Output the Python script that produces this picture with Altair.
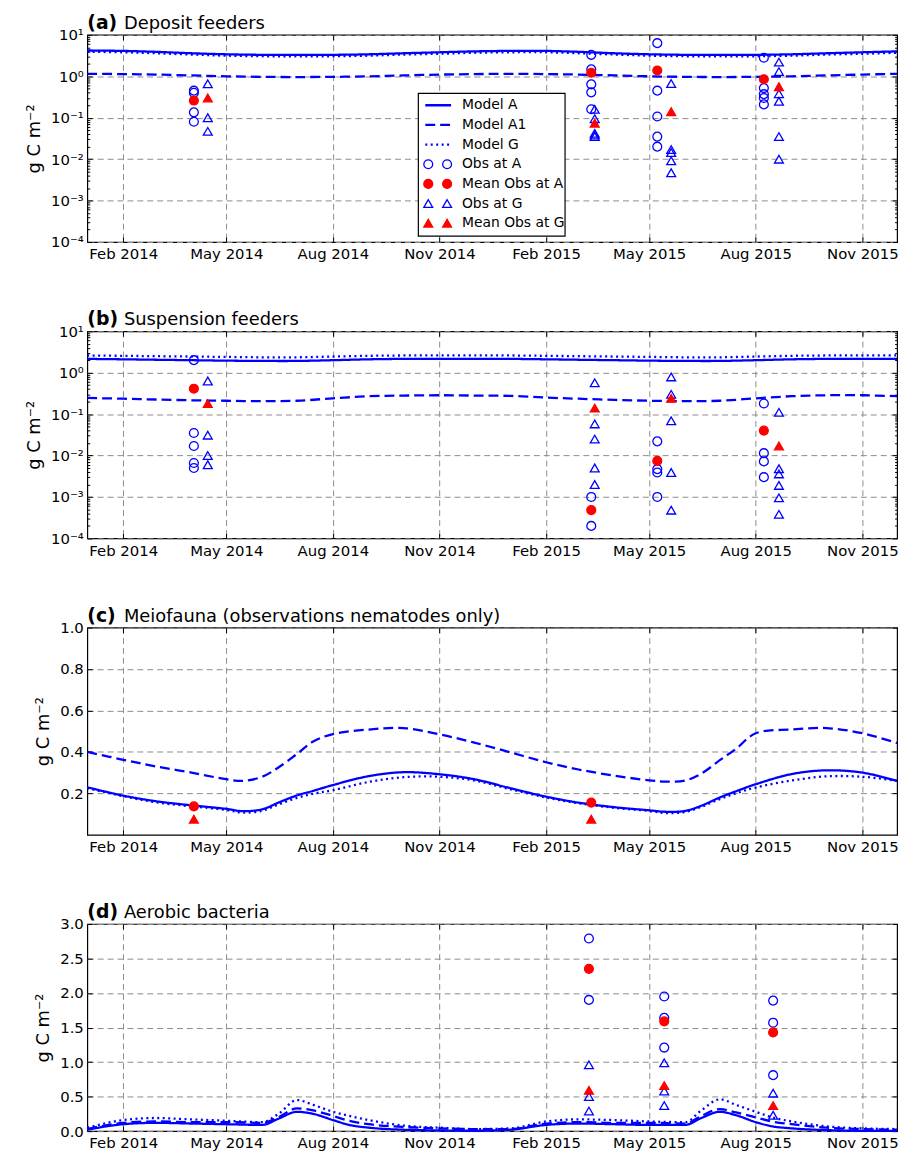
import altair as alt
import pandas as pd

FONT = "DejaVu Sans"
BLUE = "#0000ff"
RED = "#ff0000"
W, H = 817, 209

# ---------------- data ----------------
months = ["2014-01-01", "2014-02-01", "2014-03-01", "2014-04-01", "2014-05-01", "2014-06-01",
          "2014-07-01", "2014-08-01", "2014-09-01", "2014-10-01", "2014-11-01", "2014-12-01",
          "2015-01-01", "2015-02-01", "2015-03-01", "2015-04-01", "2015-05-01", "2015-06-01",
          "2015-07-01", "2015-08-01", "2015-09-01", "2015-10-01", "2015-11-01", "2015-12-01"]

c_dates = ["2014-01-01", "2014-02-01", "2014-03-01", "2014-04-01", "2014-05-01", "2014-05-15",
           "2014-06-01", "2014-06-15", "2014-07-01", "2014-07-15", "2014-08-01", "2014-09-01",
           "2014-10-01", "2014-11-01", "2014-12-01", "2015-01-01", "2015-02-01", "2015-03-01",
           "2015-04-01", "2015-05-01", "2015-05-15", "2015-06-01", "2015-06-15", "2015-07-01",
           "2015-07-15", "2015-08-01", "2015-09-01", "2015-10-01", "2015-11-01", "2015-12-01"]

d_dates = ["2014-01-01", "2014-02-01", "2014-03-01", "2014-04-01", "2014-05-01", "2014-06-01",
           "2014-06-15", "2014-07-01", "2014-07-15", "2014-08-01", "2014-08-15", "2014-09-01",
           "2014-10-01", "2014-11-01", "2014-12-01", "2015-01-01", "2015-02-01", "2015-03-01",
           "2015-04-01", "2015-05-01", "2015-06-01", "2015-06-15", "2015-07-01", "2015-07-15",
           "2015-08-01", "2015-08-15", "2015-09-01", "2015-10-01", "2015-11-01", "2015-12-01"]

x_tick_dates = ["2014-02-01", "2014-05-01", "2014-08-01", "2014-11-01",
                "2015-02-01", "2015-05-01", "2015-08-01", "2015-11-01"]

series_names = ["Model A", "Model A1", "Model G"]
marker_kinds = ["Obs at A", "Obs at G", "Mean Obs at A", "Mean Obs at G"]
legend_labels = ["Model A", "Model A1", "Model G", "Obs at A", "Mean Obs at A", "Obs at G", "Mean Obs at G"]
panel_tags = ["(a)", "(b)", "(c)", "(d)"]
panel_titles = ["Deposit feeders", "Suspension feeders",
                "Meiofauna (observations nematodes only)", "Aerobic bacteria"]

# (a) Deposit feeders
a_model_A = [4.2, 4.1, 3.9, 3.6, 3.4, 3.3, 3.3, 3.3, 3.4, 3.6, 3.8, 4.0,
             4.1, 4.1, 3.9, 3.6, 3.4, 3.3, 3.3, 3.3, 3.4, 3.6, 3.8, 4.0]
a_model_A1 = [1.15, 1.13, 1.1, 1.05, 1.0, 0.97, 0.96, 0.97, 1.0, 1.05, 1.1, 1.13,
              1.15, 1.13, 1.1, 1.05, 1.0, 0.97, 0.96, 0.97, 1.0, 1.05, 1.1, 1.15]
a_model_G = [3.9, 3.8, 3.6, 3.35, 3.15, 3.05, 3.05, 3.05, 3.15, 3.35, 3.5, 3.7,
             3.8, 3.8, 3.6, 3.35, 3.15, 3.05, 3.05, 3.05, 3.15, 3.35, 3.5, 3.7]
a_obs_A = {"2014-04-03": [0.45, 0.40, 0.135, 0.08],
           "2015-03-12": [3.3, 1.47, 0.64, 0.41, 0.16],
           "2015-05-08": [6.3, 0.45, 0.107, 0.035, 0.02],
           "2015-08-08": [2.8, 0.52, 0.37, 0.30, 0.21]}
a_mean_A = {"2014-04-03": 0.26, "2015-03-12": 1.22, "2015-05-08": 1.38, "2015-08-08": 0.85}
a_obs_G = {"2014-04-15": [0.66, 0.10, 0.047],
           "2015-03-15": [0.16, 0.095, 0.042, 0.038, 0.035],
           "2015-05-20": [0.67, 0.017, 0.0145, 0.0091, 0.0047],
           "2015-08-21": [2.2, 1.3, 0.38, 0.25, 0.035, 0.01]}
a_mean_G = {"2014-04-15": 0.30, "2015-03-15": 0.074, "2015-05-20": 0.14, "2015-08-21": 0.56}

# (b) Suspension feeders
b_model_A = [2.15, 2.1, 2.05, 2.0, 1.95, 1.92, 1.92, 2.0, 2.1, 2.15, 2.15, 2.15,
             2.15, 2.1, 2.05, 2.0, 1.95, 1.92, 1.92, 2.0, 2.1, 2.15, 2.15, 2.15]
b_model_A1 = [0.245, 0.235, 0.225, 0.215, 0.21, 0.205, 0.21, 0.24, 0.27, 0.28, 0.285, 0.28,
              0.275, 0.25, 0.235, 0.22, 0.21, 0.205, 0.21, 0.24, 0.27, 0.285, 0.285, 0.27]
b_model_G = [2.6, 2.55, 2.5, 2.45, 2.4, 2.35, 2.35, 2.45, 2.55, 2.6, 2.6, 2.6,
             2.6, 2.55, 2.5, 2.45, 2.4, 2.35, 2.35, 2.45, 2.55, 2.6, 2.6, 2.6]
b_obs_A = {"2014-04-03": [2.0, 0.035, 0.017, 0.0066, 0.005],
           "2015-03-12": [0.001, 0.0002],
           "2015-05-08": [0.022, 0.0047, 0.0039, 0.001],
           "2015-08-08": [0.18, 0.0114, 0.0072, 0.003]}
b_mean_A = {"2014-04-03": 0.41, "2015-03-12": 0.00048, "2015-05-08": 0.0074, "2015-08-08": 0.040}
b_obs_G = {"2014-04-15": [0.63, 0.031, 0.010, 0.006],
           "2015-03-15": [0.57, 0.058, 0.025, 0.005, 0.002],
           "2015-05-20": [0.79, 0.30, 0.069, 0.0039, 0.00048],
           "2015-08-21": [0.11, 0.0048, 0.0036, 0.0019, 0.00095, 0.00038]}
b_mean_G = {"2014-04-15": 0.18, "2015-03-15": 0.14, "2015-05-20": 0.24, "2015-08-21": 0.017}

# (c) Meiofauna
c_model_A = [0.229, 0.189, 0.162, 0.142, 0.125, 0.114, 0.123, 0.155, 0.19, 0.212, 0.24, 0.283,
             0.302, 0.292, 0.268, 0.225, 0.184, 0.155, 0.133, 0.118, 0.111, 0.115, 0.14, 0.18,
             0.21, 0.244, 0.293, 0.311, 0.30, 0.26]
c_model_A1 = [0.40, 0.362, 0.33, 0.30, 0.268, 0.26, 0.28, 0.325, 0.39, 0.45, 0.486, 0.508,
              0.515, 0.485, 0.445, 0.398, 0.35, 0.315, 0.285, 0.263, 0.257, 0.262, 0.295, 0.36,
              0.415, 0.49, 0.508, 0.515, 0.49, 0.443]
c_model_G = [0.225, 0.186, 0.157, 0.137, 0.12, 0.107, 0.116, 0.146, 0.178, 0.198, 0.215, 0.255,
             0.278, 0.28, 0.262, 0.22, 0.18, 0.152, 0.13, 0.115, 0.105, 0.11, 0.135, 0.172,
             0.2, 0.228, 0.262, 0.282, 0.28, 0.26]
c_mean_A = {"2014-04-03": 0.137, "2015-03-12": 0.155}
c_mean_G = {"2014-04-03": 0.075, "2015-03-12": 0.075}

# (d) Aerobic bacteria
d_model_A = [0.02, 0.10, 0.12, 0.11, 0.10, 0.09, 0.18, 0.28, 0.25, 0.16, 0.09, 0.05,
             0.02, 0.01, 0.005, 0.02, 0.09, 0.11, 0.10, 0.09, 0.09, 0.19, 0.28, 0.23,
             0.13, 0.07, 0.04, 0.015, 0.005, 0.005]
d_model_A1 = [0.03, 0.12, 0.14, 0.13, 0.13, 0.12, 0.20, 0.33, 0.30, 0.22, 0.15, 0.10,
              0.06, 0.04, 0.03, 0.03, 0.11, 0.13, 0.12, 0.12, 0.11, 0.22, 0.32, 0.27,
              0.20, 0.14, 0.10, 0.05, 0.03, 0.02]
d_model_G = [0.05, 0.16, 0.19, 0.17, 0.15, 0.13, 0.25, 0.45, 0.38, 0.28, 0.22, 0.16,
             0.08, 0.05, 0.03, 0.04, 0.14, 0.17, 0.16, 0.14, 0.13, 0.30, 0.46, 0.38,
             0.28, 0.20, 0.14, 0.07, 0.04, 0.03]
d_obs_A = {"2015-03-10": [2.79, 1.90], "2015-05-14": [1.95, 1.64, 1.21], "2015-08-16": [1.89, 1.57, 0.81]}
d_mean_A = {"2015-03-10": 2.35, "2015-05-14": 1.59, "2015-08-16": 1.43}
d_obs_G = {"2015-03-10": [0.96, 0.50, 0.29], "2015-05-14": [0.99, 0.58, 0.37], "2015-08-16": [0.55, 0.23]}
d_mean_G = {"2015-03-10": 0.59, "2015-05-14": 0.66, "2015-08-16": 0.37}

log_ticks = [1e-4, 1e-3, 1e-2, 1e-1, 1, 10]
log_minor = [m * 10.0 ** k for k in range(-4, 1) for m in range(2, 10)]
c_ticks = [0.2, 0.4, 0.6, 0.8, 1.0]
d_ticks = [0.0, 0.5, 1.0, 1.5, 2.0, 2.5, 3.0]


# ---------------- helpers ----------------
def dt(s):
    return alt.DateTime(year=int(s[:4]), month=int(s[5:7]), date=int(s[8:10]), utc=True)


XSCALE = alt.Scale(type="utc", domain=[dt("2014-01-01"), dt("2015-12-01")], nice=False)
XTICKS = [dt(s) for s in x_tick_dates]
DASH = alt.Scale(domain=series_names, range=[[1, 0], [10, 5], [2, 3.5]])
SHAPE = alt.Scale(domain=marker_kinds, range=["circle", "triangle-up", "circle", "triangle-up"])
FILL = alt.Scale(domain=marker_kinds, range=["rgba(0,0,0,0)", "rgba(0,0,0,0)", RED, RED])
STROKE = alt.Scale(domain=marker_kinds, range=[BLUE, BLUE, RED, RED])
SIZE = alt.Scale(domain=marker_kinds, range=[80, 80, 110, 120])

LOG_EXPR = ("datum.value > 5 ? '10¹' : datum.value > 0.5 ? '10⁰' : datum.value > 0.05 ? '10⁻¹' : "
            "datum.value > 0.005 ? '10⁻²' : datum.value > 0.0005 ? '10⁻³' : '10⁻⁴'")


def model_frame(dates, A, A1, G):
    rows = []
    for name, vals in zip(series_names, [A, A1, G]):
        for d, v in zip(dates, vals):
            rows.append({"date": d, "value": v, "series": name})
    return pd.DataFrame(rows)


def obs_frame(obsA, obsG, meanA, meanG):
    rows = []
    for kind, grp in [("Obs at A", obsA), ("Obs at G", obsG)]:
        for d, vals in grp.items():
            for v in vals:
                rows.append({"date": d, "value": v, "kind": kind})
    for kind, grp in [("Mean Obs at A", meanA), ("Mean Obs at G", meanG)]:
        for d, v in grp.items():
            rows.append({"date": d, "value": v, "kind": kind})
    return pd.DataFrame(rows)


def marker_encodings():
    return dict(
        shape=alt.Shape("kind:N", scale=SHAPE, legend=None),
        fill=alt.Fill("kind:N", scale=FILL, legend=None),
        stroke=alt.Stroke("kind:N", scale=STROKE, legend=None),
        size=alt.Size("kind:N", scale=SIZE, legend=None),
    )


def tick_axis(orient, values, size, offset):
    return alt.Axis(orient=orient, offset=offset, values=values, labels=False, grid=False,
                    domain=False, ticks=True, tickSize=size, tickColor="black", tickWidth=1,
                    title=None)


def panel(idx, lines_df, pts_df, yscale, ymain, yticks, yminor=None, legend=False,
          interp="catmull-rom"):
    xnone = alt.X("date:T", scale=XSCALE, axis=None)
    ynone = alt.Y("value:Q", scale=yscale, axis=None)
    layers = []
    xmain = alt.Axis(orient="bottom", values=XTICKS, labelExpr="utcFormat(datum.value, '%b %Y')",
                     grid=True, ticks=False, domain=False, labelPadding=5, title=None,
                     labelFlush=False, labelOverlap=False)
    layers.append(
        alt.Chart(lines_df).mark_line(strokeWidth=2.3, color=BLUE, interpolate=interp).encode(
            x=alt.X("date:T", scale=XSCALE, axis=xmain),
            y=alt.Y("value:Q", scale=yscale, axis=ymain),
            strokeDash=alt.StrokeDash("series:N", scale=DASH, legend=None),
        )
    )
    # inside tick marks on all four sides
    layers.append(alt.Chart(lines_df).mark_point(opacity=0).encode(
        x=alt.X("date:T", scale=XSCALE, axis=tick_axis("top", XTICKS, 5, -H)),
        y=alt.Y("value:Q", scale=yscale, axis=tick_axis("right", yticks, 5, -W))))
    layers.append(alt.Chart(lines_df).mark_point(opacity=0).encode(
        x=alt.X("date:T", scale=XSCALE, axis=tick_axis("bottom", XTICKS, 5, -H)),
        y=alt.Y("value:Q", scale=yscale, axis=tick_axis("left", yticks, 5, -W))))
    if yminor is not None:
        layers.append(alt.Chart(lines_df).mark_point(opacity=0).encode(
            x=xnone, y=alt.Y("value:Q", scale=yscale, axis=tick_axis("right", yminor, 2.5, -W))))
        layers.append(alt.Chart(lines_df).mark_point(opacity=0).encode(
            x=xnone, y=alt.Y("value:Q", scale=yscale, axis=tick_axis("left", yminor, 2.5, -W))))
    if pts_df is not None:
        layers.append(alt.Chart(pts_df).mark_point(filled=True, strokeWidth=1.3, opacity=1).encode(
            x=xnone, y=ynone, **marker_encodings()))
    # panel title
    tag_df = pd.DataFrame({"t": [panel_tags[idx]]})
    ttl_df = pd.DataFrame({"t": [panel_titles[idx]]})
    layers.append(alt.Chart(tag_df).mark_text(align="left", baseline="alphabetic", font=FONT,
                                              fontSize=19, fontWeight="bold", color="black").encode(
        x=alt.value(0), y=alt.value(-6), text="t:N"))
    layers.append(alt.Chart(ttl_df).mark_text(align="left", baseline="alphabetic", font=FONT,
                                              fontSize=18, color="black").encode(
        x=alt.value(37), y=alt.value(-6), text="t:N"))
    if legend:
        leg_df = pd.DataFrame({"row": list(range(len(legend_labels))), "kind": legend_labels})
        rows = alt.Y("row:Q", scale=alt.Scale(domain=[0, 6], range=[71, 190]), axis=None)
        box_df = pd.DataFrame({"b": [0]})
        layers.append(alt.Chart(box_df).mark_rect(fill="white", stroke="black", strokeWidth=1.2).encode(
            x=alt.value(334), x2=alt.value(482), y=alt.value(59), y2=alt.value(203)))
        layers.append(alt.Chart(leg_df).transform_filter("datum.row < 3").mark_rule(
            strokeWidth=2.3, color=BLUE).encode(
            x=alt.value(341), x2=alt.value(367), y=rows,
            strokeDash=alt.StrokeDash("kind:N", scale=DASH, legend=None)))
        for xp in (344, 363):
            layers.append(alt.Chart(leg_df).transform_filter("datum.row >= 3").mark_point(
                filled=True, strokeWidth=1.3, opacity=1).encode(
                x=alt.value(xp), y=rows, **marker_encodings()))
        layers.append(alt.Chart(leg_df).mark_text(align="left", baseline="middle", font=FONT,
                                                  fontSize=14, color="black").encode(
            x=alt.value(378), y=rows, text="kind:N"))
    return (alt.layer(*layers)
            .resolve_scale(x="independent", y="independent")
            .resolve_axis(x="independent", y="independent")
            .properties(width=W, height=H))


YTITLE = "g C m⁻²"
log_scale = alt.Scale(type="log", domain=[1e-4, 10], nice=False)
log_axis = alt.Axis(orient="left", values=log_ticks, labelExpr=LOG_EXPR, grid=True, ticks=False,
                    domain=False, title=YTITLE, labelPadding=4, titlePadding=7)

pa = panel(0, model_frame(months, a_model_A, a_model_A1, a_model_G),
           obs_frame(a_obs_A, a_obs_G, a_mean_A, a_mean_G), log_scale, log_axis, log_ticks,
           log_minor, legend=True)
pb = panel(1, model_frame(months, b_model_A, b_model_A1, b_model_G),
           obs_frame(b_obs_A, b_obs_G, b_mean_A, b_mean_G), log_scale, log_axis, log_ticks,
           log_minor)
pc = panel(2, model_frame(c_dates, c_model_A, c_model_A1, c_model_G),
           obs_frame({}, {}, c_mean_A, c_mean_G),
           alt.Scale(type="linear", domain=[0, 1.0], nice=False, zero=False),
           alt.Axis(orient="left", values=c_ticks, format=".1f", grid=True, ticks=False,
                    domain=False, title=YTITLE, labelPadding=4, titlePadding=7), c_ticks)
pd_ = panel(3, model_frame(d_dates, d_model_A, d_model_A1, d_model_G),
            obs_frame(d_obs_A, d_obs_G, d_mean_A, d_mean_G),
            alt.Scale(type="linear", domain=[0, 3.0], nice=False, zero=False),
            alt.Axis(orient="left", values=d_ticks, format=".1f", grid=True, ticks=False,
                     domain=False, title=YTITLE, labelPadding=4, titlePadding=7), d_ticks,
            interp="monotone")

chart = (alt.vconcat(pa, pb, pc, pd_, spacing=47)
         .properties(padding={"left": 17, "top": 0, "right": 5, "bottom": 0})
         .configure_view(stroke="black", strokeWidth=1.2)
         .configure_axis(labelFont=FONT, labelFontSize=15, labelColor="black",
                         titleFont=FONT, titleFontSize=18, titleFontWeight="normal",
                         titleColor="black", gridColor="#8c8c8c", gridDash=[6, 4],
                         gridWidth=1, gridOpacity=1))

chart.save("out.html", embed_options={"renderer": "svg", "actions": False})
